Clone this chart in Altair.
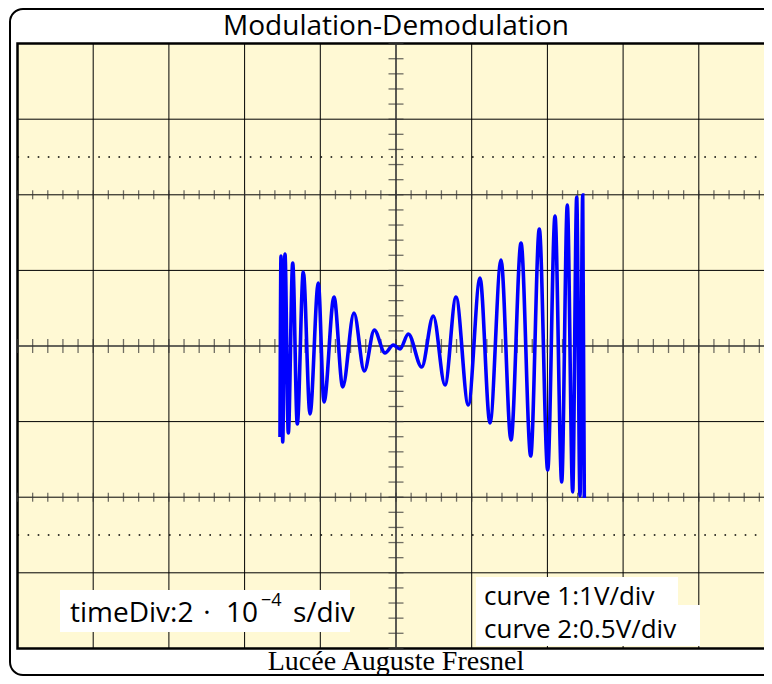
import altair as alt
import pandas as pd

# ---- data (curve 1, extrema of the trace) ----
# time in ms, voltage in V
t_ms = [-0.3065, -0.3038, -0.2993, -0.2933, -0.2845, -0.2729, -0.2608, -0.2449,
        -0.2272, -0.2053, -0.1902, -0.1638, -0.1408, -0.1110, -0.0838, -0.0573,
        -0.0291, -0.0071, 0.0106, 0.0325, 0.0679, 0.0985, 0.1295, 0.1585,
        0.1910, 0.2219, 0.2483, 0.2774, 0.3038, 0.3303, 0.3559, 0.3786,
        0.4008, 0.4201, 0.4378, 0.4526, 0.4668, 0.4774, 0.4861, 0.4933, 0.4975]
volts = [-1.204, 1.190, -1.270, 1.217, -1.151, 1.098, -1.032, 0.979,
         -0.900, 0.833, -0.741, 0.648, -0.542, 0.437, -0.331, 0.212,
         -0.093, 0.013, -0.040, 0.159, -0.278, 0.397, -0.516, 0.648,
         -0.780, 0.900, -1.019, 1.138, -1.243, 1.362, -1.455, 1.548,
         -1.640, 1.720, -1.799, 1.865, -1.931, 1.971, -1.984, 1.997, -2.011]

title_text = "Modulation-Demodulation"
footer_text = "Lucée Auguste Fresnel"
time_parts = ["timeDiv:2", "·", "10", "−4", "s/div"]
curve_labels = ["curve 1:1V/div", "curve 2:0.5V/div"]

time_div = 0.2      # ms per division
volt_div = 1.0      # V per division
half_x_div = 5
half_y_div = 4

# ---- layout ----
W, H = 756, 668
X_DOMAIN = [-1.02510, 0.97226]
Y_DOMAIN = [-4.3651, 4.4709]
xs = alt.Scale(domain=X_DOMAIN, nice=False, zero=False)
ys = alt.Scale(domain=Y_DOMAIN, nice=False, zero=False)
FONT_SANS = "Open Sans"
FONT_SERIF = "Liberation Serif"
LABEL_SIZE = 28

xmax = half_x_div * time_div
ymax = half_y_div * volt_div

one = pd.DataFrame({"a": [0]})

outer = alt.Chart(one).mark_rect(
    fill="white", stroke="black", strokeWidth=2, cornerRadius=13
).encode(x=alt.value(2), x2=alt.value(772), y=alt.value(1), y2=alt.value(667))

frame_df = pd.DataFrame({"x": [-xmax], "x2": [xmax], "y": [-ymax], "y2": [ymax]})
frame = alt.Chart(frame_df).mark_rect(
    fill="#FFF9D4", stroke="black", strokeWidth=2.5
).encode(
    x=alt.X("x:Q", scale=xs, axis=None), x2="x2:Q",
    y=alt.Y("y:Q", scale=ys, axis=None), y2="y2:Q",
)

vgrid_df = pd.DataFrame({"t": [round(k * time_div, 4) for k in range(-4, 5) if k != 0]})
vgrid_df["lo"] = -ymax
vgrid_df["hi"] = ymax
vgrid = alt.Chart(vgrid_df).mark_rule(color="black", strokeWidth=1).encode(
    x=alt.X("t:Q", scale=xs, axis=None),
    y=alt.Y("lo:Q", scale=ys, axis=None), y2="hi:Q",
)

hgrid_df = pd.DataFrame({"v": [k * volt_div for k in range(-3, 4) if k != 0]})
hgrid_df["lo"] = -xmax
hgrid_df["hi"] = xmax
hgrid = alt.Chart(hgrid_df).mark_rule(color="black", strokeWidth=1).encode(
    y=alt.Y("v:Q", scale=ys, axis=None),
    x=alt.X("lo:Q", scale=xs, axis=None), x2="hi:Q",
)

vaxis = alt.Chart(pd.DataFrame({"t": [0.0], "lo": [-ymax], "hi": [ymax]})).mark_rule(
    color="#333333", strokeWidth=1.6).encode(
    x=alt.X("t:Q", scale=xs, axis=None),
    y=alt.Y("lo:Q", scale=ys, axis=None), y2="hi:Q",
)
haxis = alt.Chart(pd.DataFrame({"v": [0.0], "lo": [-xmax], "hi": [xmax]})).mark_rule(
    color="#333333", strokeWidth=1.6).encode(
    y=alt.Y("v:Q", scale=ys, axis=None),
    x=alt.X("lo:Q", scale=xs, axis=None), x2="hi:Q",
)

dots_df = pd.DataFrame({"v": [-2.5 * volt_div, 2.5 * volt_div], "lo": [-xmax, -xmax], "hi": [xmax, xmax]})
dots = alt.Chart(dots_df).mark_rule(color="black", strokeWidth=1.6, strokeDash=[1.6, 8.5]).encode(
    y=alt.Y("v:Q", scale=ys, axis=None),
    x=alt.X("lo:Q", scale=xs, axis=None), x2="hi:Q",
)

xt = [round(k * time_div / 5, 4) for k in range(-25, 26)]
xticks_c = alt.Chart(pd.DataFrame({"t": xt, "v": 0.0})).mark_tick(
    orient="vertical", size=14, thickness=1.3, color="#333333").encode(
    x=alt.X("t:Q", scale=xs, axis=None), y=alt.Y("v:Q", scale=ys, axis=None))
xt2 = pd.DataFrame({"t": xt * 2, "v": [2 * volt_div] * len(xt) + [-2 * volt_div] * len(xt)})
xticks_2 = alt.Chart(xt2).mark_tick(
    orient="vertical", size=9, thickness=1.3, color="#333333").encode(
    x=alt.X("t:Q", scale=xs, axis=None), y=alt.Y("v:Q", scale=ys, axis=None))
yt = [round(k * volt_div / 5, 4) for k in range(-20, 21)]
yticks = alt.Chart(pd.DataFrame({"t": 0.0, "v": yt})).mark_tick(
    orient="horizontal", size=15, thickness=1.3, color="#333333").encode(
    x=alt.X("t:Q", scale=xs, axis=None), y=alt.Y("v:Q", scale=ys, axis=None))

curve_df = pd.DataFrame({"t": t_ms, "v": volts})
curve = alt.Chart(curve_df).mark_line(
    color="#0000FF", strokeWidth=3.6, interpolate="monotone").encode(
    x=alt.X("t:Q", scale=xs, axis=None), y=alt.Y("v:Q", scale=ys, axis=None))

title = alt.Chart(one).mark_text(
    text=title_text, font=FONT_SANS, fontSize=28, align="center", baseline="middle"
).encode(x=alt.value(388), y=alt.value(19))
footer = alt.Chart(one).mark_text(
    text=footer_text, font=FONT_SERIF, fontSize=28, align="center", baseline="middle"
).encode(x=alt.value(388), y=alt.value(654))

box_time = alt.Chart(one).mark_rect(fill="white").encode(
    x=alt.value(52), x2=alt.value(342), y=alt.value(582), y2=alt.value(624))
box_c1 = alt.Chart(one).mark_rect(fill="white").encode(
    x=alt.value(468), x2=alt.value(670), y=alt.value(569), y2=alt.value(599))
box_c2 = alt.Chart(one).mark_rect(fill="white").encode(
    x=alt.value(468), x2=alt.value(692), y=alt.value(597), y2=alt.value(638))


def label(txt, x, y, size=LABEL_SIZE, align="left"):
    return alt.Chart(one).mark_text(
        text=txt, font=FONT_SANS, fontSize=size, align=align, baseline="alphabetic"
    ).encode(x=alt.value(x), y=alt.value(y))


t1 = label(time_parts[0], 62, 614)
t2 = label(time_parts[1], 199, 614, align="center")
t3 = label(time_parts[2], 250, 614, align="right")
t4 = label(time_parts[3], 253, 598, size=18)
t5 = label(time_parts[4], 285, 614)
c1 = label(curve_labels[0], 476, 597, size=26)
c2 = label(curve_labels[1], 476, 630, size=26)

chart = alt.layer(
    outer, frame, vgrid, hgrid, dots, vaxis, haxis, xticks_c, xticks_2, yticks,
    curve, box_time, box_c1, box_c2, t1, t2, t3, t4, t5, c1, c2, title, footer
).properties(
    width=W, height=H, padding=0, autosize="none", background="white"
).configure_view(stroke=None)

chart.save("out.html", embed_options={"renderer": "svg", "actions": False})
